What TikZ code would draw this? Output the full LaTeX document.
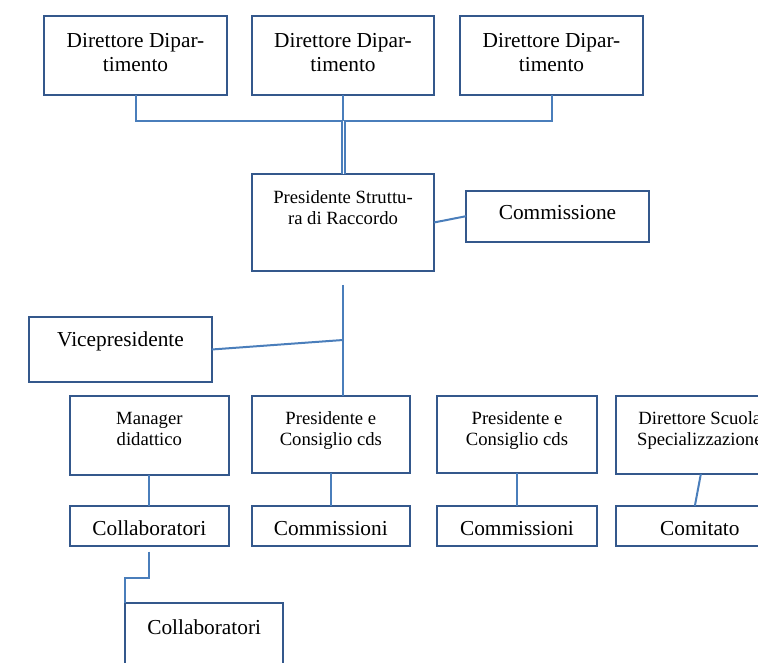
\documentclass[tikz,border=0pt]{standalone}
\usepackage{fontspec}
\setmainfont{Liberation Serif}
\usetikzlibrary{calc}
\definecolor{boxc}{RGB}{52,88,140}
\definecolor{connc}{RGB}{74,126,187}
\tikzset{
  bx/.style 2 args={draw=boxc, line width=1.5pt, rectangle, inner sep=0pt, outer sep=0pt,
    minimum width=#1*0.75pt, minimum height=#2*0.75pt},
  big/.style={font=\fontsize{16}{17.6}\selectfont, inner sep=0pt, align=center, text=black},
  small/.style={font=\fontsize{14}{15.75}\selectfont, inner sep=0pt, align=center, text=black},
  conn/.style={draw=connc, line width=1.5pt},
  dbl/.style={draw=connc, line width=1.1pt, double=white, double distance=1.3pt}
}
\begin{document}
\begin{tikzpicture}[x=0.75pt, y=-0.75pt]
\useasboundingbox (0,0) rectangle (758,663);
\clip (0,0) rectangle (758,663);
\fill[white] (0,0) rectangle (758,663);

% top row
\node[bx={183}{79}] (d1) at (135.5,55.5) {};
\node[bx={182}{79}] (d2) at (343,55.5) {};
\node[bx={183}{79}] (d3) at (551.5,55.5) {};
\node[big, anchor=north] (t1) at ($(d1.north)+(0,17.6)$) {Direttore Dipar-\\timento};
\node[big, anchor=north] (t2) at ($(d2.north)+(0,17.6)$) {Direttore Dipar-\\timento};
\node[big, anchor=north] (t3) at ($(d3.north)+(0,17.6)$) {Direttore Dipar-\\timento};

% president
\node[bx={182}{96.4}] (ps) at (343,222.5) {};
\node[small, anchor=north] (tps) at ($(ps.north)+(0,15.6)$) {Presidente Struttu-\\ra di Raccordo};
\node[bx={183}{51}] (cm) at (557.5,216.2) {};
\node[big, anchor=base] (tcm) at (557.5,220) {Commissione};

% vice
\node[bx={182.4}{64.4}] (vp) at (120.5,349.5) {};
\node[big, anchor=base] (tvp) at (120.5,346.7) {Vicepresidente};

% row of boxes
\node[bx={158.7}{79}] (md) at (149.35,435.5) {};
\node[small, anchor=north] (tmd) at ($(md.north)+(0,15.6)$) {Manager\\didattico};
\node[bx={158.3}{76.7}] (pc1) at (330.85,434.35) {};
\node[small, anchor=north] (tpc1) at ($(pc1.north)+(0,15.6)$) {Presidente e\\Consiglio cds};
\node[bx={159.4}{76.7}] (pc2) at (517,434.35) {};
\node[small, anchor=north] (tpc2) at ($(pc2.north)+(0,15.6)$) {Presidente e\\Consiglio cds};
\node[bx={168.3}{78}] (ds) at (699.85,435) {};
\node[small, anchor=north] (tds) at ($(ds.north)+(0,15.6)$) {Direttore Scuola\\Specializzazione};

\node[bx={158.7}{39.7}] (c1) at (149.35,525.85) {};
\node[big, anchor=base] (tc1) at (149.35,535.7) {Collaboratori};
\node[bx={158.3}{39.7}] (cs1) at (330.85,525.85) {};
\node[big, anchor=base] (tcs1) at (330.85,535.7) {Commissioni};
\node[bx={159.4}{39.7}] (cs2) at (517,525.85) {};
\node[big, anchor=base] (tcs2) at (517,535.7) {Commissioni};
\node[bx={168.3}{39.7}] (ct) at (699.85,525.85) {};
\node[big, anchor=base] (tct) at (699.85,535.7) {Comitato};

\node[bx={158.3}{79}] (c2) at (204.15,642.8) {};
\node[big, anchor=base] (tc2) at (204.15,634) {Collaboratori};

% connectors
\coordinate (bar) at (0,121);
\draw[conn] (d1.south) -- (d1.south |- bar) -- (d3.south |- bar) -- (d3.south);
\draw[conn] (d2.south) -- (d2.south |- bar);
\draw[dbl] ($(d2.south |- bar)+(0.5,0)$) -- ($(ps.north)+(0.5,0)$);
\draw[conn] (ps.east) -- (cm.west);

\coordinate (vtop) at (343,285);
\coordinate (vj) at (343,340);
\draw[conn] (vtop) -- (vtop |- pc1.north);
\draw[conn] (vp.east) -- (vj);

\draw[conn] (md.south) -- (c1.north);
\draw[conn] (pc1.south) -- (cs1.north);
\draw[conn] (pc2.south) -- (cs2.north);
\draw[conn] ($(ds.south)+(1,0)$) -- ($(ct.north)+(-5,0)$);

\coordinate (k) at (149.35,578);
\draw[conn] ($(c1.south)+(0,6)$) -- (k) -- (k -| c2.north west) -- (c2.north west);
\end{tikzpicture}
\end{document}
